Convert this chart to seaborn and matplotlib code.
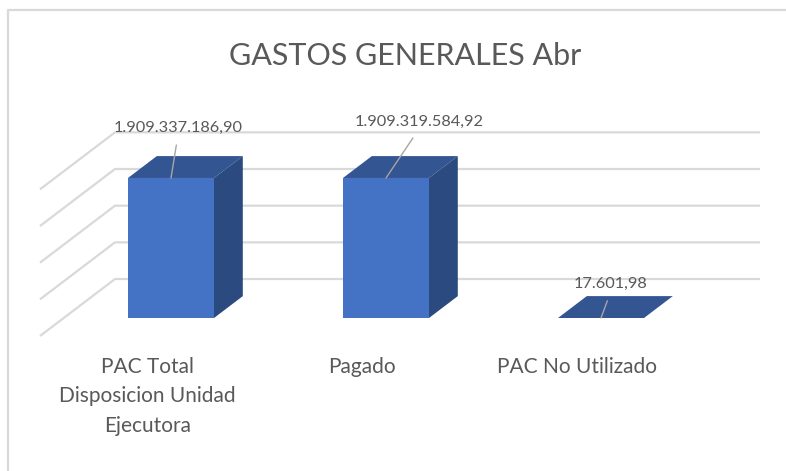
import matplotlib
matplotlib.use("Agg")
import matplotlib.pyplot as plt
from matplotlib.patches import Polygon
from matplotlib.lines import Line2D
import seaborn as sns
import numpy as np

sns.set_theme(style="white")
plt.rcParams['font.family'] = ['Lato', 'DejaVu Sans']

# datos
categorias = ["PAC Total\nDisposicion Unidad\nEjecutora", "Pagado", "PAC No Utilizado"]
valores = [1909337186.90, 1909319584.92, 17601.98]
etiquetas = ["1.909.337.186,90", "1.909.319.584,92", "17.601,98"]
lineas_guia = [0, 500000000, 1000000000, 1500000000, 2000000000]

# colores estilo Excel
FRENTE = "#4472C4"
TECHO = "#335592"
LADO = "#2A4A80"
GRIS = "#D9D9D9"
TEXTO = "#595959"

# geometria (pixeles) de la vista 3D
W, H = 786, 471
PX_CAT = 215.0              # px entre categorias
CAT0 = 171.0                # px x de la primera categoria
CERO = 318.0                # px y del cero en la cara frontal
PX_VAL = 140.0 / 1.909e9    # px por unidad de valor
PROF_X, PROF_Y = 75.0, 57.0  # desplazamiento de toda la profundidad
F0, F1 = 0.316, 0.70         # profundidad del frente / fondo de las barras

DX = PROF_X / PX_CAT
DY = PROF_Y / PX_VAL


def px_a_x(px):
    return (px - CAT0) / PX_CAT


fig = plt.figure(figsize=(W / 100, H / 100), dpi=100)
izq, der, arr = 40, 760, 120
ax = fig.add_axes([izq / W, (H - CERO) / H, (der - izq) / W, (CERO - arr) / H])

df = {"cat": categorias, "val": valores}
sns.barplot(x="cat", y="val", data=df, width=0.4, color=FRENTE,
            saturation=1, ax=ax, zorder=3, linewidth=0)

ax.set_xlim(px_a_x(izq), px_a_x(der))
ax.set_ylim(0, (CERO - arr) / PX_VAL)
for s in ax.spines.values():
    s.set_visible(False)
ax.set_yticks([])
ax.set_xlabel("")
ax.set_ylabel("")

# lineas de division: pared lateral + pared del fondo
x_lado = px_a_x(izq)
x_fin = px_a_x(der)
for g in lineas_guia:
    xs = [x_lado, x_lado + DX, x_fin]
    ys = [g - F0 * DY, g + (1 - F0) * DY, g + (1 - F0) * DY]
    ax.plot(xs, ys, color=GRIS, lw=1.6, zorder=1, clip_on=False,
            solid_capstyle="butt")

# caras de arriba y lateral de cada barra
dbx = (F1 - F0) * DX
dby = (F1 - F0) * DY
for p in ax.patches[:len(valores)]:
    x0 = p.get_x()
    x1 = x0 + p.get_width()
    h = p.get_height()
    techo = Polygon([(x0, h), (x1, h), (x1 + dbx, h + dby), (x0 + dbx, h + dby)],
                    closed=True, fc=TECHO, ec="none", zorder=4)
    lado = Polygon([(x1, 0), (x1, h), (x1 + dbx, h + dby), (x1 + dbx, dby)],
                   closed=True, fc=LADO, ec="none", zorder=4)
    ax.add_patch(techo)
    ax.add_patch(lado)

# etiquetas de datos con linea guia
desplaz = [(7, 46), (33, 52), (10, 30)]
for i, (v, txt) in enumerate(zip(valores, etiquetas)):
    ax.annotate(txt, xy=(i, v), xytext=desplaz[i], textcoords="offset pixels",
                ha="center", va="baseline", fontsize=11.8, color=TEXTO,
                zorder=6,
                arrowprops=dict(arrowstyle="-", color="#A6A6A6", lw=1,
                                relpos=(0.5, 0), shrinkA=5, shrinkB=0))

# etiquetas del eje x en la profundidad del frente
ax.set_xticks(np.arange(len(categorias)) - F0 * DX)
ax.set_xticklabels(categorias, fontsize=15, color=TEXTO)
ax.tick_params(axis="x", length=0, pad=28)
for t in ax.get_xticklabels():
    t.set_linespacing(1.6)

fig.text(405 / W, (H - 65) / H, "GASTOS GENERALES Abr", ha="center",
         va="baseline", fontsize=22, color=TEXTO)

# borde del grafico
fig.add_artist(Line2D([8 / W, 8 / W], [0, (H - 10) / H], color=GRIS, lw=1.6))
fig.add_artist(Line2D([8 / W, 1], [(H - 10) / H, (H - 10) / H], color=GRIS, lw=1.6))

fig.savefig("out.png", dpi=100)
plt.close(fig)
